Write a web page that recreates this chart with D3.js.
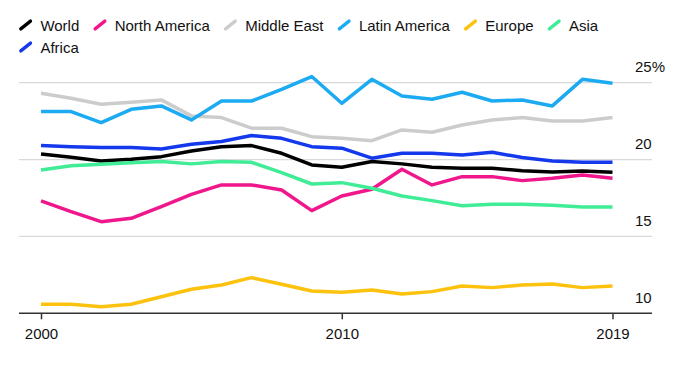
<!DOCTYPE html>
<html>
<head>
<meta charset="utf-8">
<script src="https://cdn.jsdelivr.net/npm/d3@7"></script>
<style>
  body { margin: 0; background: #fff; font-family: "Liberation Sans", Arial, sans-serif; }
  svg text { fill: #111; }
</style>
</head>
<body>
<div id="chart"></div>
<script>
const years = d3.range(2000, 2020);

const world        = [20.36, 20.15, 19.91, 20.02, 20.19, 20.56, 20.84, 20.91, 20.41, 19.65, 19.50, 19.87, 19.72, 19.50, 19.43, 19.43, 19.28, 19.19, 19.26, 19.17];
const northAmerica = [17.31, 16.61, 15.96, 16.18, 16.94, 17.74, 18.35, 18.35, 18.02, 16.68, 17.63, 18.07, 19.37, 18.35, 18.89, 18.89, 18.63, 18.78, 19.00, 18.78];
const middleEast   = [24.31, 23.99, 23.60, 23.73, 23.88, 22.84, 22.73, 22.04, 22.04, 21.49, 21.38, 21.23, 21.93, 21.78, 22.25, 22.58, 22.73, 22.51, 22.51, 22.73];
const latinAmerica = [23.12, 23.12, 22.40, 23.27, 23.49, 22.58, 23.81, 23.81, 24.57, 25.40, 23.66, 25.22, 24.14, 23.92, 24.38, 23.81, 23.88, 23.49, 25.22, 24.96];
const europe       = [10.59, 10.59, 10.43, 10.59, 11.08, 11.56, 11.84, 12.32, 11.89, 11.45, 11.37, 11.52, 11.26, 11.41, 11.78, 11.67, 11.84, 11.90, 11.67, 11.78];
const asia         = [19.32, 19.60, 19.69, 19.80, 19.87, 19.72, 19.87, 19.82, 19.15, 18.41, 18.50, 18.13, 17.63, 17.33, 17.00, 17.09, 17.09, 17.03, 16.92, 16.92];
const africa       = [20.91, 20.84, 20.78, 20.78, 20.69, 21.00, 21.17, 21.56, 21.38, 20.84, 20.74, 20.09, 20.41, 20.41, 20.30, 20.47, 20.13, 19.91, 19.82, 19.82];

const seriesNames = ["World", "North America", "Middle East", "Latin America", "Europe", "Asia", "Africa"];
const seriesColors = ["#000000", "#f0168c", "#cccccc", "#1cabf2", "#fdc20d", "#40ec95", "#1438ec"];
const seriesValues = [world, northAmerica, middleEast, latinAmerica, europe, asia, africa];

const yTicks = [10, 15, 20, 25];
const yTickLabels = ["10", "15", "20", "25%"];
const xTicks = [2000, 2010, 2019];

const width = 680, height = 366;

const series = seriesNames.map((name, i) => ({
  name: name,
  color: seriesColors[i],
  values: years.map((y, j) => ({year: y, value: seriesValues[i][j]}))
}));

const svg = d3.select("#chart").append("svg")
  .attr("width", width)
  .attr("height", height);

const x = d3.scaleLinear()
  .domain([2000, 2019])
  .range([41, 612.5]);
const y = d3.scaleLinear()
  .domain([10, 25])
  .range([313.3, 82.7]);

const gridLeft = 19, gridRight = 652;

// gridlines (not at the baseline)
svg.append("g")
  .selectAll("line")
  .data(yTicks.filter(d => d > 10))
  .join("line")
    .attr("x1", gridLeft)
    .attr("x2", gridRight)
    .attr("y1", d => y(d))
    .attr("y2", d => y(d))
    .attr("stroke", "#d9d9d9")
    .attr("stroke-width", 1.3);

// y labels sit above their line
svg.append("g")
  .selectAll("text")
  .data(yTicks)
  .join("text")
    .attr("x", 635)
    .attr("y", d => y(d) - 10.5)
    .attr("font-size", 15)
    .text((d, i) => yTickLabels[i]);

// lines
const line = d3.line()
  .x(d => x(d.year))
  .y(d => y(d.value));

svg.append("g")
  .selectAll("path")
  .data(series)
  .join("path")
    .attr("fill", "none")
    .attr("stroke", d => d.color)
    .attr("stroke-width", 3.5)
    .attr("stroke-linejoin", "round")
    .attr("d", d => line(d.values));

// x axis
const gX = svg.append("g")
  .attr("transform", `translate(0,${y(10)})`);
gX.append("line")
  .attr("x1", gridLeft)
  .attr("x2", gridRight)
  .attr("stroke", "#333")
  .attr("stroke-width", 1.5);
gX.call(d3.axisBottom(x).tickValues(xTicks).tickFormat(d3.format("d")).tickSize(6).tickPadding(9))
  .call(g => g.select(".domain").remove())
  .call(g => g.selectAll(".tick line").attr("stroke", "#333").attr("stroke-width", 1.5))
  .call(g => g.selectAll(".tick text")
    .attr("font-family", "Liberation Sans, Arial, sans-serif")
    .attr("font-size", 15)
    .attr("fill", "#111"));

// legend
const legend = svg.append("g");
const legendLeft = 19;
let lx = legendLeft, ly = 30.7;
const maxLegend = 640;
series.forEach(s => {
  const item = legend.append("g");
  const t = item.append("text")
    .attr("x", 21.4)
    .attr("y", 0)
    .attr("font-size", 15)
    .text(s.name);
  const w = 21.4 + t.node().getComputedTextLength();
  if (lx + w > maxLegend) { lx = legendLeft; ly += 22; }
  item.attr("transform", `translate(${lx},${ly})`);
  item.append("line")
    .attr("x1", 1.8)
    .attr("y1", -1.8)
    .attr("x2", 11.5)
    .attr("y2", -9.6)
    .attr("stroke", s.color)
    .attr("stroke-width", 3.3)
    .attr("stroke-linecap", "round");
  lx += w + 14;
});
</script>
</body>
</html>
